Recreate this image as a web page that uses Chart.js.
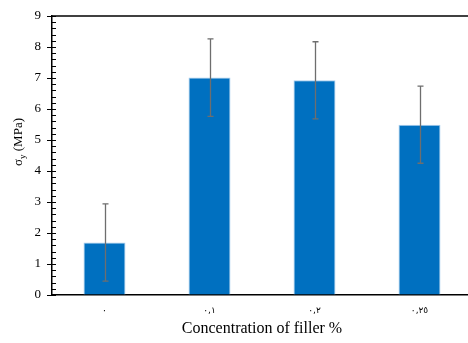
<!DOCTYPE html>
<html>
<head>
<meta charset="utf-8">
<script src="https://cdn.jsdelivr.net/npm/chart.js@4/dist/chart.umd.min.js"></script>
<style>
    html, body { margin: 0; padding: 0; background: #fff; overflow: hidden; }
    #wrap { width: 472px; height: 343px; }
</style>
</head>
<body>
<div id="wrap"><canvas id="stressChart"></canvas></div>
<script>
const categories = ["٠", "٠,١", "٠,٢", "٠,٢٥"];
const yieldStress = [1.69, 7.02, 6.93, 5.49];
const errPlus = [1.25, 1.24, 1.24, 1.25];
const errMinus = [1.24, 1.26, 1.25, 1.24];
const yTicks = [0, 1, 2, 3, 4, 5, 6, 7, 8, 9];

const serif = "'Liberation Serif', 'Times New Roman', serif";

// error bars, minor ticks, top border and the y title with subscript
const extras = {
    id: "extras",
    afterDatasetsDraw(chart) {
        const ctx = chart.ctx;
        const y = chart.scales.y;
        const meta = chart.getDatasetMeta(0);
        ctx.save();
        ctx.strokeStyle = "#6e6e6e";
        ctx.lineWidth = 1.3;
        meta.data.forEach((bar, i) => {
            const top = y.getPixelForValue(yieldStress[i] + errPlus[i]);
            const bot = y.getPixelForValue(yieldStress[i] - errMinus[i]);
            const x = Math.round(bar.x) + 0.5;
            ctx.beginPath();
            ctx.moveTo(x, top); ctx.lineTo(x, bot);
            ctx.moveTo(x - 3, top); ctx.lineTo(x + 3, top);
            ctx.moveTo(x - 3, bot); ctx.lineTo(x + 3, bot);
            ctx.stroke();
        });
        ctx.restore();
    },
    afterDraw(chart) {
        const ctx = chart.ctx;
        const y = chart.scales.y;
        const area = chart.chartArea;
        ctx.save();
        ctx.strokeStyle = "#000";
        ctx.lineWidth = 1;
        ctx.beginPath();
        for (let v = 0; v <= 9.001; v += 0.2) {
            const py = Math.round(y.getPixelForValue(v)) + 0.5;
            ctx.moveTo(area.left, py); ctx.lineTo(area.left + 4, py);
        }
        ctx.stroke();
        // top border
        ctx.lineWidth = 1.5;
        ctx.beginPath();
        ctx.moveTo(area.left, area.top); ctx.lineTo(area.right, area.top);
        ctx.stroke();

        // y title: sigma_y (MPa)
        ctx.translate(17, 142);
        ctx.rotate(-Math.PI / 2);
        ctx.fillStyle = "#000";
        ctx.textBaseline = "alphabetic";
        const s1 = "σ", s3 = " (MPa)";
        ctx.font = "9px " + serif;
        const wSub = ctx.measureText("y").width;
        ctx.font = "13px " + serif;
        const w1 = ctx.measureText(s1).width;
        const w3 = ctx.measureText(s3).width;
        const x0 = -(w1 + wSub + w3) / 2;
        ctx.fillText(s1, x0, 5);
        ctx.font = "9px " + serif;
        ctx.fillText("y", x0 + w1, 8);
        ctx.font = "13px " + serif;
        ctx.fillText(s3, x0 + w1 + wSub, 5);
        ctx.restore();
    }
};

const data = {
    labels: categories,
    datasets: [{
        data: yieldStress,
        backgroundColor: "#0070c0",
        borderColor: "#a9cdee",
        borderWidth: 1,
        barPercentage: 0.4,
        categoryPercentage: 1.0,
    }],
};

const config = {
    type: "bar",
    data: data,
    plugins: [extras],
    options: {
        responsive: true,
        maintainAspectRatio: false,
        animation: false,
        layout: { padding: { top: 16, right: 0, left: 0, bottom: 0 } },
        plugins: {
            legend: { display: false },
            tooltip: { enabled: false },
        },
        scales: {
            x: {
                grid: { display: false, drawTicks: false },
                border: { color: "#000", width: 1.5 },
                ticks: {
                    color: "#000",
                    font: { size: 9, family: "'DejaVu Sans', sans-serif" },
                    padding: 10,
                    maxRotation: 0,
                },
                title: {
                    display: true,
                    text: "Concentration of filler %",
                    color: "#000",
                    font: { size: 16, family: serif },
                    padding: { top: 0, bottom: 5 },
                },
                afterFit(scale) { scale.height = 48; },
            },
            y: {
                min: 0,
                max: 9,
                afterBuildTicks(scale) { scale.ticks = yTicks.map(v => ({ value: v })); },
                grid: { drawOnChartArea: false, tickLength: 5, color: "#000" },
                border: { color: "#000", width: 1.5 },
                ticks: {
                    color: "#000",
                    font: { size: 13, family: serif },
                    padding: 6,
                },
                afterFit(scale) { scale.width = 52; },
            },
        },
    },
};

const ctx = document.getElementById("stressChart").getContext("2d");
const stressChart = new Chart(ctx, config);
</script>
</body>
</html>
